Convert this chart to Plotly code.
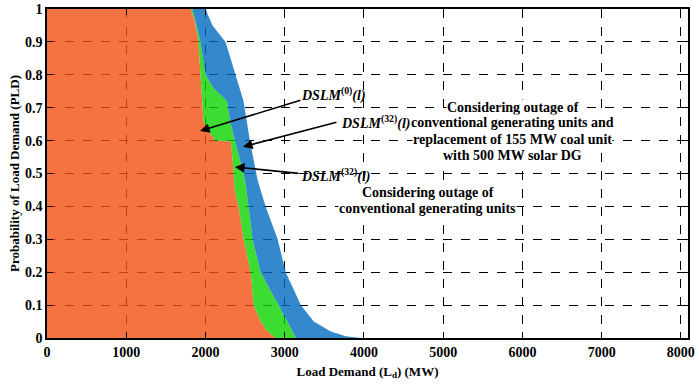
import plotly.graph_objects as go

# DSLM(0)(l) - base case (orange)
orange_load = [0, 1810, 1860, 1911, 1937, 1962, 1975, 2025, 2100, 2110, 2320, 2340, 2370, 2418, 2481, 2570, 2608, 2696, 2785, 2861, 2886]
orange_prob = [1, 1, 0.97, 0.9, 0.8, 0.72, 0.66, 0.63, 0.61, 0.6, 0.597, 0.55, 0.45, 0.4, 0.3, 0.2, 0.1, 0.05, 0.02, 0.005, 0]

# DSLM(32)(l) - outage of conventional units (green)
green_load = [0, 1835, 1886, 1937, 2000, 2100, 2271, 2310, 2373, 2436, 2500, 2544, 2595, 2696, 2924, 3038, 3101, 3139]
green_prob = [1, 1, 0.95, 0.9, 0.8, 0.76, 0.72, 0.66, 0.6, 0.54, 0.48, 0.4, 0.3, 0.2, 0.1, 0.05, 0.02, 0]

# DSLM(32)(l) - outage + 500 MW solar DG (blue)
blue_load = [0, 2000, 2089, 2253, 2316, 2380, 2480, 2560, 2658, 2759, 2911, 3013, 3203, 3367, 3582, 3772, 3962]
blue_prob = [1, 1, 0.95, 0.9, 0.85, 0.8, 0.72, 0.6, 0.48, 0.4, 0.3, 0.2, 0.1, 0.05, 0.02, 0.005, 0]

x_ticks = [0, 1000, 2000, 3000, 4000, 5000, 6000, 7000, 8000]
y_ticks = [0, 0.1, 0.2, 0.3, 0.4, 0.5, 0.6, 0.7, 0.8, 0.9, 1]
y_tick_text = ["0", "0.1", "0.2", "0.3", "0.4", "0.5", "0.6", "0.7", "0.8", "0.9", "1"]

block1_lines = ["Considering outage of", "conventional generating units and",
                "replacement of 155 MW coal unit", "with 500 MW solar DG"]
block2_lines = ["Considering outage of", "conventional generating units"]

FONT = "Liberation Serif, Times New Roman, serif"

fig = go.Figure()
fig.add_trace(go.Scatter(x=orange_load, y=orange_prob, mode="lines", line=dict(width=0),
                         fill="tozerox", fillcolor="rgba(242,80,17,0.8)", hoverinfo="skip"))
fig.add_trace(go.Scatter(x=green_load, y=green_prob, mode="lines", line=dict(width=0),
                         fill="tonextx", fillcolor="rgba(11,211,0,0.8)", hoverinfo="skip"))
fig.add_trace(go.Scatter(x=blue_load, y=blue_prob, mode="lines", line=dict(width=0),
                         fill="tonextx", fillcolor="rgba(0,107,191,0.8)", hoverinfo="skip"))

ann_font = dict(family=FONT, size=14, color="black")

# text blocks, one annotation per line (white box hides grid behind text)
b1_y = [0.702, 0.6537, 0.602, 0.5533]
for txt, y in zip(block1_lines, b1_y):
    fig.add_annotation(x=5880, y=y, xref="x", yref="y", showarrow=False, text="<b>" + txt + "</b>",
                       font=ann_font, xanchor="center", yanchor="middle", bgcolor="white", borderpad=0)
b2_y = [0.4437, 0.395]
for txt, y in zip(block2_lines, b2_y):
    fig.add_annotation(x=4808, y=y, xref="x", yref="y", showarrow=False, text="<b>" + txt + "</b>",
                       font=ann_font, xanchor="center", yanchor="middle", bgcolor="white", borderpad=0)

arrows = [
    # (tail_x, tail_y, head_x, head_y)
    (3218, 0.724, 1931, 0.629),
    (3672, 0.657, 2473, 0.581),
    (3192, 0.500, 2372, 0.520),
]
for tx, ty, hx, hy in arrows:
    fig.add_annotation(x=hx, y=hy, ax=tx, ay=ty, xref="x", yref="y", axref="x", ayref="y",
                       text="", showarrow=True, arrowhead=2, arrowsize=1.2, arrowwidth=1.6,
                       arrowcolor="black")

labels = [
    (3192, 0.739, "<b><i>DSLM</i><sup>(0)</sup><i>(l)</i></b>"),
    (3697, 0.6537, "<b><i>DSLM</i><sup>(32)</sup><i>(l)</i></b>"),
    (3192, 0.4954, "<b><i>DSLM</i><sup>(32)</sup><i>(l)</i></b>"),
]
for x, y, t in labels:
    fig.add_annotation(x=x, y=y, xref="x", yref="y", text=t, showarrow=False,
                       xanchor="left", yanchor="middle", font=ann_font, borderpad=0)

fig.update_layout(
    width=699, height=384,
    margin=dict(l=47, r=11, t=9, b=46),
    paper_bgcolor="white", plot_bgcolor="white",
    showlegend=False,
    font=dict(family=FONT, size=12, color="black"),
)
fig.update_xaxes(
    range=[0, 8090], tickvals=x_ticks, ticks="inside", ticklen=6, tickcolor="black",
    showline=True, linecolor="black", linewidth=1.5, mirror="ticks", automargin=False,
    showgrid=True, gridcolor="black", griddash="dash", gridwidth=1.2, zeroline=False,
    tickfont=dict(family=FONT, size=14, weight="bold"),
    title=dict(text="<b>Load Demand (L<sub>d</sub>) (MW)</b>", font=dict(family=FONT, size=13), standoff=8),
)
fig.update_yaxes(
    range=[0, 1], tickvals=y_ticks, ticktext=y_tick_text, ticks="inside", ticklen=6, tickcolor="black",
    showline=True, linecolor="black", linewidth=1.5, mirror="ticks", automargin=False,
    showgrid=True, gridcolor="black", griddash="dash", gridwidth=1.2, zeroline=False,
    tickfont=dict(family=FONT, size=14, weight="bold"),
    title=dict(text="<b>Probability of Load Demand (PLD)</b>", font=dict(family=FONT, size=13), standoff=2),
)

fig.write_html("out.html", config={"displayModeBar": False})

# remove the default page margin so the figure sits at the window's top-left corner
with open("out.html", "r", encoding="utf-8") as f:
    html = f.read()
html = html.replace("<head>", "<head><style>html,body{margin:0;padding:0;overflow:hidden;}</style>", 1)
with open("out.html", "w", encoding="utf-8") as f:
    f.write(html)
